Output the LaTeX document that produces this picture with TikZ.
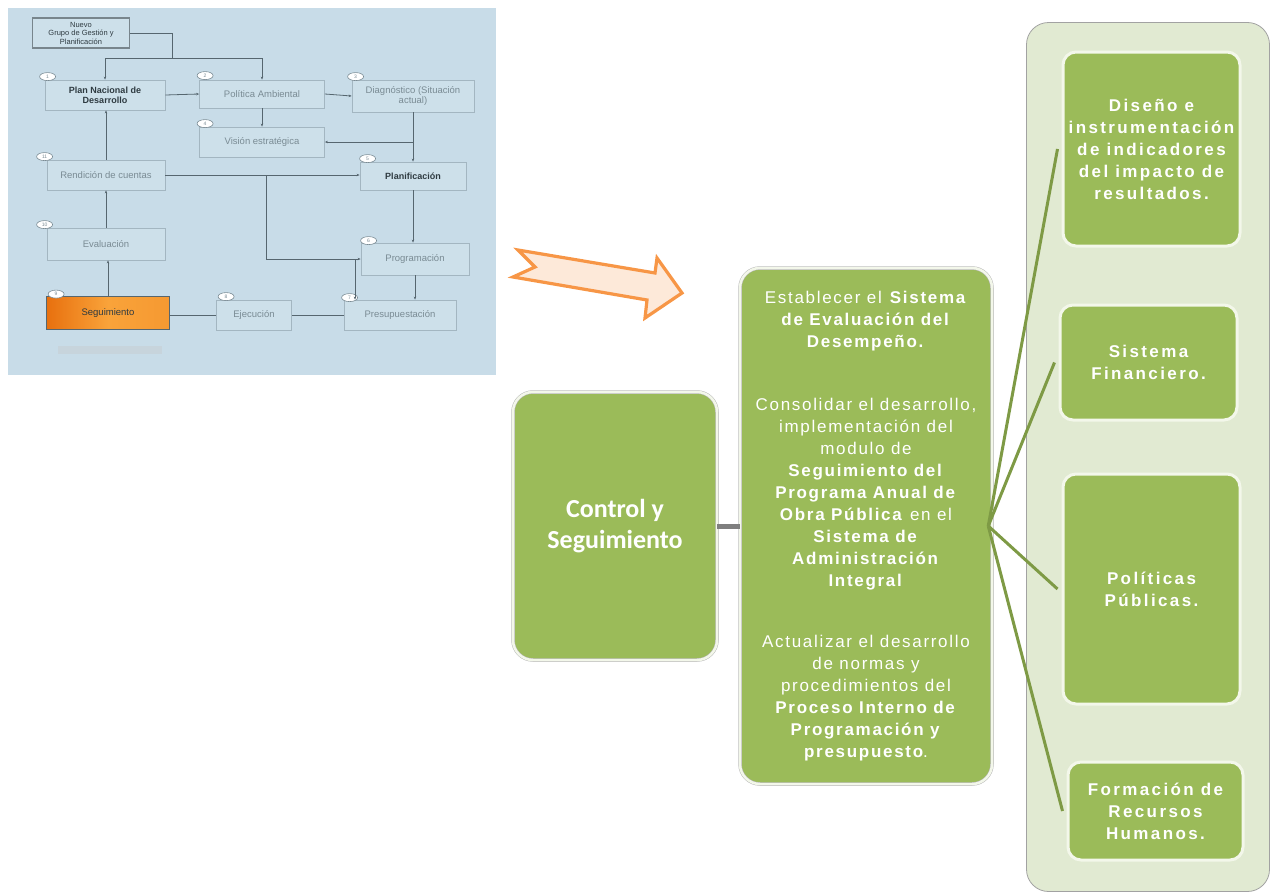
\documentclass[tikz,border=0pt]{standalone}
\usepackage{fontspec}
\setmainfont{Liberation Sans}
\newfontfamily\midfont[LetterSpace=10]{Liberation Sans}
\newfontfamily\sidefont[LetterSpace=14]{Liberation Sans}
\newfontfamily\calib{Carlito}
\usetikzlibrary{arrows.meta,shapes.geometric}

\definecolor{flowbg}{HTML}{C8DCE8}
\definecolor{flowfill}{HTML}{CDE0EA}
\definecolor{flowedge}{HTML}{A3B6C1}
\definecolor{flowtext}{HTML}{7A8B94}
\definecolor{flowline}{HTML}{56666F}
\definecolor{flowdark}{HTML}{2E3A40}
\definecolor{segdark}{HTML}{E8700E}
\definecolor{seglight}{HTML}{F9A33A}
\definecolor{arrorange}{HTML}{F79646}
\definecolor{arrpeach}{HTML}{FDE9D9}
\definecolor{leaf}{HTML}{9BBB59}
\definecolor{leafrim}{HTML}{F3F7EA}
\definecolor{panelfill}{HTML}{E1EAD2}
\definecolor{paneledge}{HTML}{A2A2A2}
\definecolor{twig}{HTML}{7E9A45}
\definecolor{stem}{HTML}{7F7F7F}

\tikzset{
  fbox/.style={draw=flowedge, fill=flowfill, line width=0.8pt, text=flowtext,
    font=\fontsize{9.5}{10}\selectfont, align=center, inner sep=1pt},
  fboxbold/.style={fbox, text=flowdark, font=\bfseries\fontsize{9}{10}\selectfont},
  oval/.style={ellipse, draw=flowtext, fill=white, line width=0.6pt, inner sep=0pt,
    minimum width=16pt, minimum height=8pt, font=\fontsize{5}{5}\selectfont, text=flowtext},
  flow/.style={draw=flowline, line width=0.8pt},
  flowarr/.style={flow, -{Stealth[length=3pt,width=2.5pt]}},
  greenbox/.style={fill=leaf, draw=gray!55, line width=0.5pt, double=leafrim,
    double distance=2.5pt, rounded corners=20pt, text=white, align=center},
  sidebox/.style={fill=leaf, draw=leafrim, line width=3pt, rounded corners=13pt,
    text=white, align=center, font=\sidefont\bfseries\fontsize{17}{22}\selectfont},
  branch/.style={draw=twig, line width=3pt},
}

\begin{document}
\begin{tikzpicture}[x=1pt,y=-1pt]
\useasboundingbox (0,0) rectangle (1272,894);

% ---------- process flowchart ----------
\fill[flowbg] (8,8) rectangle (496,375);
\fill[gray!45, opacity=0.35] (58,346) rectangle (162,354);

\node[fbox, draw=flowline!80, line width=1.6pt, minimum width=97pt, minimum height=30pt,
  text=flowdark, font=\fontsize{7.5}{8.5}\selectfont] (grp) at (81,33)
  {Nuevo\\Grupo de Gestión y\\Planificación};
\node[fboxbold, minimum width=120pt, minimum height=30pt] (pnd) at (105,95) {Plan Nacional de\\Desarrollo};
\node[fbox, minimum width=125pt, minimum height=28pt] (pol) at (262,94) {Política Ambiental};
\node[fbox, minimum width=122pt, minimum height=32pt] (diag) at (413,96) {Diagnóstico (Situación\\actual)};
\node[fbox, minimum width=125pt, minimum height=30pt] (vis) at (262,142) {Visión estratégica};
\node[fbox, minimum width=118pt, minimum height=30pt] (ren) at (106,175) {Rendición de cuentas};
\node[fboxbold, minimum width=106pt, minimum height=28pt] (plan) at (413,176) {Planificación};
\node[fbox, minimum width=118pt, minimum height=32pt] (eva) at (106,244) {Evaluación};
\node[fbox, minimum width=108pt, minimum height=32pt] (prog) at (415,259) {Programación};
\node[fbox, minimum width=123pt, minimum height=33pt, draw=flowline, left color=segdark,
  right color=seglight!80!segdark, middle color=seglight, text=flowdark] (seg) at (108,313) {Seguimiento};
\node[fbox, minimum width=75pt, minimum height=30pt] (eje) at (254,315) {Ejecución};
\node[fbox, minimum width=112pt, minimum height=30pt] (pres) at (400,315) {Presupuestación};

\node[oval] at ([xshift=3pt,yshift=3pt]pnd.north west) {1};
\node[oval] at ([xshift=6pt,yshift=4pt]pol.north west) {2};
\node[oval] at ([xshift=4pt,yshift=3pt]diag.north west) {3};
\node[oval] at ([xshift=6pt,yshift=3pt]vis.north west) {4};
\node[oval] at ([xshift=8pt,yshift=3pt]plan.north west) {5};
\node[oval] at ([xshift=8pt,yshift=2pt]prog.north west) {6};
\node[oval] at ([xshift=6pt,yshift=2pt]pres.north west) {7};
\node[oval] at ([xshift=10pt,yshift=3pt]eje.north west) {8};
\node[oval] at ([xshift=10pt,yshift=2pt]seg.north west) {9};
\node[oval] at ([xshift=-2pt,yshift=3pt]eva.north west) {10};
\node[oval] at ([xshift=-2pt,yshift=3pt]ren.north west) {11};

\coordinate (j1) at (172,58);
\coordinate (j2) at (105,58);
\coordinate (j3) at (262,58);
\coordinate (b1) at (266,175);
\coordinate (b2) at (355,259);
\draw[flow] (grp.east) -| (j1);
\draw[flow] (j2) -- (j3);
\draw[flowarr] (j2) -- (pnd.north);
\draw[flowarr] (j3) -- (pol.north);
\draw[flowarr] (pnd.east) -- (pol.west);
\draw[flowarr] (pol.east) -- (diag.west);
\draw[flowarr] (pol.south) -- (vis.north);
\draw[flowarr] (diag.south) -- (plan.north);
\draw[flowarr] (diag.south |- vis.east) -- (vis.east);
\draw[flowarr] (ren.north) -- (ren.north |- pnd.south);
\draw[flowarr] (ren.east) -- (ren.east -| plan.west);
\draw[flowarr] (b1) |- (prog.west);
\draw[flowarr] (b2) -- (b2 |- pres.north);
\draw[flowarr] (plan.south) -- (plan.south |- prog.north);
\draw[flowarr] (prog.south) -- (prog.south |- pres.north);
\draw[flow] (pres.west) -- (eje.east);
\draw[flow] (eje.west) -- (eje.west -| seg.east);
\draw[flowarr] (seg.north) -- (seg.north |- eva.south);
\draw[flowarr] (eva.north) -- (ren.south);

% ---------- block arrow ----------
\draw[draw=arrorange, fill=arrpeach, line width=3.2pt, line join=miter]
  (518,250) -- (655,273) -- (657,258) -- (682,293) -- (645,318) -- (647,300)
  -- (513,277) -- (535,267) -- cycle;

% ---------- hierarchy ----------
\node[draw=paneledge, fill=panelfill, line width=0.8pt, rounded corners=22pt,
  minimum width=243pt, minimum height=869pt] (panel) at (1148,457) {};

\node[greenbox, minimum width=204pt, minimum height=268pt,
  font=\calib\bfseries\fontsize{26}{31}\selectfont] (ctrl) at (615,526) {Control y\\Seguimiento};

\node[greenbox, minimum width=252pt, minimum height=516pt,
  font=\midfont\fontsize{17}{22}\selectfont] (mid) at (866,526)
  {Establecer el \textbf{Sistema}\\ \textbf{de Evaluación del}\\ \textbf{Desempeño.}\\[41pt]
   Consolidar el desarrollo,\\ implementación del\\ modulo de\\ \textbf{Seguimiento del}\\
   \textbf{Programa Anual de}\\ \textbf{Obra Pública} en el\\ \textbf{Sistema de}\\
   \textbf{Administración}\\ \textbf{Integral}\\[39pt]
   Actualizar el desarrollo\\ de normas y\\ procedimientos del\\
   \textbf{Proceso Interno de}\\ \textbf{Programación y}\\ \textbf{presupuesto}.};

\node[sidebox, minimum width=177pt, minimum height=194pt] (s1) at (1151.5,149)
  {Diseño e\\instrumentación\\de indicadores\\del impacto de\\resultados.};
\node[sidebox, minimum width=177pt, minimum height=115pt] (s2) at (1148.5,362.5)
  {Sistema\\Financiero.};
\node[sidebox, minimum width=177pt, minimum height=230pt] (s3) at (1151.5,589)
  {Políticas\\Públicas.};
\node[sidebox, minimum width=175pt, minimum height=98pt] (s4) at (1155.5,811)
  {Formación de\\Recursos\\Humanos.};

\draw[draw=stem, line width=5pt] (ctrl.east) -- (mid.west);
\coordinate (hub) at ([xshift=-4pt]mid.east);
\draw[branch] (hub) -- ([xshift=-4pt]s1.west);
\draw[branch] (hub) -- ([xshift=-4pt]s2.west);
\draw[branch] (hub) -- ([xshift=-4pt]s3.west);
\draw[branch] (hub) -- ([xshift=-4pt]s4.west);
\end{tikzpicture}
\end{document}
